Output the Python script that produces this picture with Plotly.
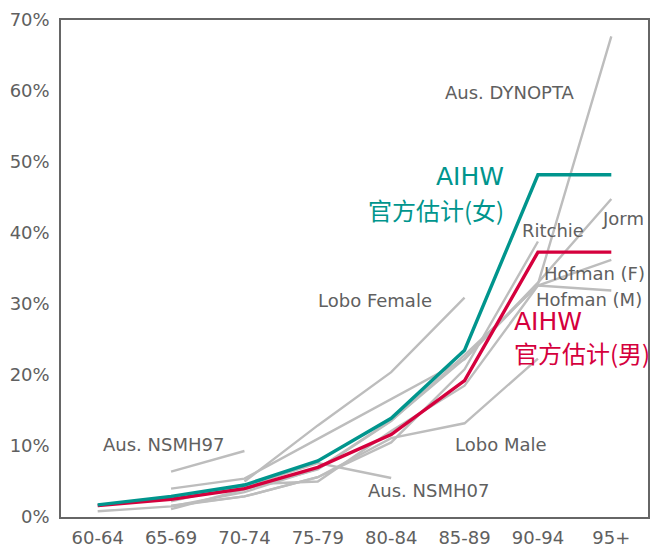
import plotly.graph_objects as go

# Faixas etárias e prevalência de demência (%)
ages = ["60-64", "65-69", "70-74", "75-79", "80-84", "85-89", "90-94", "95+"]

aihw_female = [1.7, 2.9, 4.5, 7.9, 13.9, 23.5, 48.2, 48.2]
aihw_male = [1.6, 2.5, 4.0, 7.0, 11.6, 19.2, 37.3, 37.3]

jorm = [0.8, 1.5, 2.9, 5.6, 10.5, 20.8, 38.8, None]
ritchie = [None, 1.5, 3.5, 6.8, 13.6, 22.3, 33.0, 44.8]
hofman_f = [None, 1.1, 3.9, 6.7, 13.5, 22.8, 32.6, 36.2]
hofman_m = [None, 2.2, 4.6, 5.0, 12.1, 18.5, 32.6, 31.9]
lobo_female = [None, None, 5.0, 12.9, 20.4, 30.9, None, None]
lobo_male = [None, 1.6, 2.9, 5.6, 11.1, 13.2, 22.3, None]
dynopta = [None, 4.0, 5.4, 11.0, 16.6, 22.2, 32.8, 67.7]
nsmh97 = [None, 6.4, 9.3, None, None, None, None, None]
nsmh07 = [None, 2.4, 4.3, 7.6, 5.5, None, None, None]

grey_series = {
    "Jorm": jorm,
    "Ritchie": ritchie,
    "Hofman (F)": hofman_f,
    "Hofman (M)": hofman_m,
    "Lobo Female": lobo_female,
    "Lobo Male": lobo_male,
    "Aus. DYNOPTA": dynopta,
    "Aus. NSMH97": nsmh97,
    "Aus. NSMH07": nsmh07,
}

TEAL = "#00958d"
RED = "#d5003d"
GREY = "#bdbdbd"
TXT = "#606060"
FONT = "DejaVu Sans"
CJK = "Noto Sans CJK SC"

fig = go.Figure()

for nome, vals in grey_series.items():
    fig.add_trace(go.Scatter(x=ages, y=vals, mode="lines", name=nome,
                             line=dict(color=GREY, width=2.4)))

fig.add_trace(go.Scatter(x=ages, y=aihw_male, mode="lines", name="AIHW (M)",
                         line=dict(color=RED, width=3.4)))
fig.add_trace(go.Scatter(x=ages, y=aihw_female, mode="lines", name="AIHW (F)",
                         line=dict(color=TEAL, width=3.4)))

# rótulos (x em índice de categoria, y em %)
labels = [
    ("Aus. NSMH97", 0.05, 10.2, "left", TXT, 18, FONT),
    ("Aus. NSMH07", 3.66, 3.7, "left", TXT, 18, FONT),
    ("Lobo Male", 4.84, 10.2, "left", TXT, 18, FONT),
    ("Lobo Female", 2.98, 30.5, "left", TXT, 18, FONT),
    ("Aus. DYNOPTA", 4.71, 59.8, "left", TXT, 18, FONT),
    ("Ritchie", 5.76, 40.3, "left", TXT, 18, FONT),
    ("Jorm", 6.84, 42.0, "left", TXT, 18, FONT),
    ("Hofman (F)", 6.05, 34.3, "left", TXT, 18, FONT),
    ("Hofman (M)", 5.94, 30.7, "left", TXT, 18, FONT),
    ("AIHW", 5.56, 48.0, "right", TEAL, 25, FONT),
    ("官方估计(女)", 5.56, 43.3, "right", TEAL, 24, CJK),
    ("AIHW", 5.64, 27.6, "left", RED, 25, FONT),
    ("官方估计(男)", 5.64, 23.1, "left", RED, 24, CJK),
]
for txt, x, y, anc, cor, tam, fam in labels:
    fig.add_annotation(x=x, y=y, xref="x", yref="y", text=txt, showarrow=False,
                       xanchor=anc, yanchor="middle",
                       font=dict(color=cor, size=tam, family=fam))

fig.update_layout(
    width=652, height=550,
    margin=dict(l=61, r=2, t=20, b=32),
    plot_bgcolor="white", paper_bgcolor="white",
    showlegend=False,
    font=dict(family=FONT, color=TXT, size=18),
    xaxis=dict(type="category", range=[-0.5, 7.5], showgrid=False,
               showline=True, linecolor="#666666", linewidth=1.5, mirror=True,
               ticks="outside", ticklen=4, tickcolor="rgba(0,0,0,0)",
               tickfont=dict(size=18, color=TXT)),
    yaxis=dict(range=[0, 70], dtick=10, ticksuffix="%", showgrid=False,
               zeroline=False, showline=True, linecolor="#666666", linewidth=1.5,
               mirror=True, ticks="outside", ticklen=6, tickcolor="rgba(0,0,0,0)",
               tickfont=dict(size=18, color=TXT)),
)

fig.write_html("out.html", config={"displayModeBar": False},
               post_script="document.body.style.margin='0px';")
